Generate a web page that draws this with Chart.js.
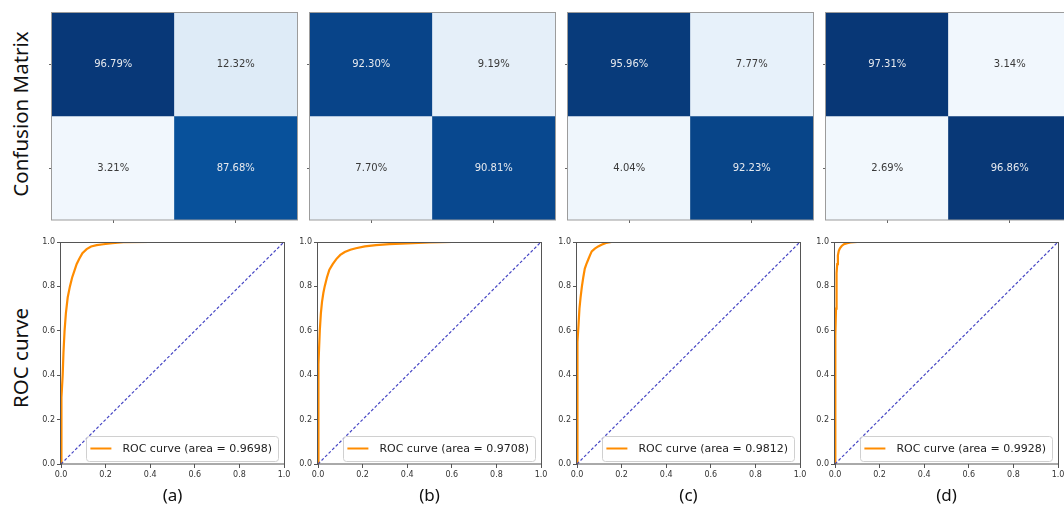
<!DOCTYPE html>
<html>
<head>
<meta charset="utf-8">
<script src="https://cdn.jsdelivr.net/npm/chart.js@4/dist/chart.umd.min.js"></script>
<style>
  html, body { margin: 0; padding: 0; background: #fff; }
  body { width: 1064px; height: 506px; position: relative; overflow: hidden; }
  canvas { position: absolute; }
  .rowlabel { position: absolute; transform: translate(-50%, -50%) rotate(-90deg); white-space: nowrap;
              font-family: "Noto Sans", sans-serif; font-size: 20.5px; color: #111; }
</style>
</head>
<body>
<div class="rowlabel" style="left:20px; top:114px;">Confusion Matrix</div>
<div class="rowlabel" style="left:20px; top:358px;">ROC curve</div>
<script>
// ---------------- data ----------------
const panelNames = ['(a)', '(b)', '(c)', '(d)'];

// confusion matrices (percent), rows top -> bottom, columns left -> right
const cmA = [[96.79, 12.32], [3.21, 87.68]];
const cmB = [[92.30, 9.19], [7.70, 90.81]];
const cmC = [[95.96, 7.77], [4.04, 92.23]];
const cmD = [[97.31, 3.14], [2.69, 96.86]];

const aucValues = [0.9698, 0.9708, 0.9812, 0.9928];

const fprA = [0, 0, 0.004, 0.0075, 0.011, 0.016, 0.022, 0.03, 0.04, 0.05, 0.06, 0.07, 0.082, 0.096, 0.115, 0.135, 0.16, 0.19, 0.23, 0.28, 0.4, 1.0];
const tprA = [0, 0.13, 0.3, 0.4, 0.5, 0.6, 0.68, 0.75, 0.8, 0.84, 0.87, 0.9, 0.925, 0.95, 0.968, 0.98, 0.986, 0.99, 0.995, 0.999, 1.0, 1.0];

const fprB = [0, 0, 0.002, 0.004, 0.008, 0.013, 0.018, 0.024, 0.03, 0.04, 0.051, 0.066, 0.082, 0.1, 0.12, 0.145, 0.17, 0.21, 0.26, 0.32, 0.4, 0.5, 0.6, 1.0];
const tprB = [0, 0.13, 0.35, 0.45, 0.6, 0.68, 0.73, 0.77, 0.80, 0.84, 0.875, 0.9, 0.923, 0.942, 0.955, 0.965, 0.972, 0.98, 0.986, 0.99, 0.994, 0.998, 1.0, 1.0];

const fprC = [0, 0, 0.002, 0.004, 0.007, 0.011, 0.016, 0.022, 0.028, 0.035, 0.042, 0.05, 0.058, 0.066, 0.08, 0.095, 0.11, 0.13, 0.155, 1.0];
const tprC = [0, 0.13, 0.4, 0.55, 0.63, 0.7, 0.75, 0.8, 0.84, 0.88, 0.9, 0.92, 0.94, 0.958, 0.97, 0.98, 0.988, 0.996, 1.0, 1.0];

const fprD = [0, 0, 0.001, 0.002, 0.003, 0.0045, 0.006, 0.008, 0.01, 0.013, 0.017, 0.022, 0.03, 0.04, 0.055, 0.07, 0.1, 1.0];
const tprD = [0, 0.13, 0.35, 0.48, 0.58, 0.7, 0.8, 0.86, 0.9, 0.94, 0.96, 0.972, 0.982, 0.99, 0.995, 0.998, 1.0, 1.0];

const diagX = [0, 1];
const diagY = [0, 1];
const axisTicks = [0, 0.2, 0.4, 0.6, 0.8, 1.0];
const cmColumns = ['0', '1'];

// ---------------- styling helpers ----------------
const BLUES = [[247,251,255],[222,235,247],[198,219,239],[158,202,225],[107,174,214],[66,146,198],[33,113,181],[8,81,156],[8,48,107]];
function blues(pct) {
  const t = Math.max(0, Math.min(1, pct / 100)) * (BLUES.length - 1);
  const i = Math.min(Math.floor(t), BLUES.length - 2);
  const f = t - i;
  const c = BLUES[i].map((v, k) => Math.round(v + (BLUES[i + 1][k] - v) * f));
  return `rgb(${c[0]},${c[1]},${c[2]})`;
}

const TICK_FONT = { family: '"DejaVu Sans", sans-serif', size: 8 };

const frameBox = {
  id: 'frameBox',
  afterDraw(chart, args, opts) {
    const { ctx, chartArea: a } = chart;
    ctx.save();
    ctx.strokeStyle = opts.color || '#444';
    ctx.lineWidth = 1;
    ctx.strokeRect(Math.round(a.left) - 0.5, Math.round(a.top) + 0.5, Math.round(a.right - a.left) + 1, Math.round(a.bottom - a.top) - 0.5);
    ctx.restore();
  }
};

const cellText = {
  id: 'cellText',
  afterDatasetsDraw(chart) {
    const { ctx } = chart;
    ctx.save();
    ctx.font = '10px "DejaVu Sans", sans-serif';
    ctx.textAlign = 'center';
    ctx.textBaseline = 'middle';
    chart.data.datasets.forEach((ds, di) => {
      const meta = chart.getDatasetMeta(di);
      meta.data.forEach((el, i) => {
        const v = ds.values[i];
        const p = el.getProps(['x', 'y', 'base'], true);
        ctx.fillStyle = v > 50 ? '#e6e9ee' : '#3a3a3a';
        ctx.fillText(v.toFixed(2) + '%', p.x, (p.y + p.base) / 2);
      });
    });
    ctx.restore();
  }
};

const innerLegend = {
  id: 'innerLegend',
  afterDraw(chart) {
    const { ctx, chartArea: a } = chart;
    const ds = chart.data.datasets[1];
    ctx.save();
    ctx.font = '11px "DejaVu Sans", sans-serif';
    const tw = ctx.measureText(ds.label).width;
    const h = 25;
    const w = tw + 42;
    const right = a.right - 6;
    const bottom = a.bottom - 3;
    const left = right - w, top = bottom - h;
    ctx.beginPath();
    ctx.roundRect(Math.round(left) + 0.5, Math.round(top) + 0.5, Math.round(w), h, 3);
    ctx.fillStyle = 'rgba(255,255,255,0.85)';
    ctx.fill();
    ctx.strokeStyle = '#d0d0d0';
    ctx.lineWidth = 1;
    ctx.stroke();
    const cy = top + h / 2;
    ctx.beginPath();
    ctx.moveTo(left + 4, cy);
    ctx.lineTo(left + 25, cy);
    ctx.strokeStyle = ds.borderColor;
    ctx.lineWidth = 2;
    ctx.stroke();
    ctx.fillStyle = '#222';
    ctx.textBaseline = 'middle';
    ctx.fillText(ds.label, left + 36, cy + 0.5);
    ctx.restore();
  }
};

function makeCanvas(left, top, w, h) {
  const c = document.createElement('canvas');
  c.width = w; c.height = h;
  c.style.left = left + 'px'; c.style.top = top + 'px';
  c.style.width = w + 'px'; c.style.height = h + 'px';
  document.body.appendChild(c);
  return c;
}

// ---------------- confusion matrices ----------------
const cmLefts = [52, 310, 568, 826];
const CM_W = 245, CM_TOP = 12, CM_H = 208;
[cmA, cmB, cmC, cmD].forEach((cm, k) => {
  const cv = makeCanvas(cmLefts[k] - 10, 0, 10 + CM_W + 6, CM_TOP + CM_H + 10);
  new Chart(cv, {
    type: 'bar',
    data: {
      labels: cmColumns,
      datasets: cm.map((row, r) => ({
        data: row.map(() => [cm.length - r - 1, cm.length - r]),
        values: row,
        backgroundColor: row.map(blues),
        borderWidth: 0,
        grouped: false,
        barPercentage: 1,
        categoryPercentage: 1
      }))
    },
    options: {
      responsive: false, animation: false, devicePixelRatio: 1,
      layout: { padding: { top: CM_TOP, right: 6, left: 0, bottom: 0 } },
      plugins: { legend: { display: false }, tooltip: { enabled: false }, frameBox: { color: '#9c9c9c' } },
      scales: {
        x: {
          type: 'category', offset: true,
          grid: { offset: false, drawOnChartArea: false, tickLength: 3, color: '#666' },
          border: { display: false },
          ticks: { display: false },
          afterFit: s => { s.height = 10; }
        },
        y: {
          type: 'linear', min: 0, max: 2,
          grid: { drawOnChartArea: false, tickLength: 3, color: '#666' },
          border: { display: false },
          ticks: { display: false },
          afterBuildTicks: s => { s.ticks = [{ value: 0.5 }, { value: 1.5 }]; },
          afterFit: s => { s.width = 10; }
        }
      }
    },
    plugins: [cellText, frameBox]
  });
});

// ---------------- ROC curves ----------------
const rocLefts = [61, 318, 577, 835];
const ROC_W = 223, ROC_H = 222, ROC_TOP = 242;
const rocSeries = [[fprA, tprA], [fprB, tprB], [fprC, tprC], [fprD, tprD]];
rocSeries.forEach(([fpr, tpr], k) => {
  const cv = makeCanvas(rocLefts[k] - 30, ROC_TOP - 8, 30 + ROC_W + 12, 8 + ROC_H + 42);
  new Chart(cv, {
    type: 'line',
    data: {
      datasets: [
        {
          label: 'chance',
          data: diagX.map((x, i) => ({ x, y: diagY[i] })),
          borderColor: '#4646c4', borderWidth: 1.2, borderDash: [3, 2],
          pointRadius: 0, tension: 0
        },
        {
          label: 'ROC curve (area = ' + aucValues[k].toFixed(4) + ')',
          data: fpr.map((x, i) => ({ x, y: tpr[i] })),
          borderColor: '#ff8c00', borderWidth: 2.2,
          pointRadius: 0, tension: 0
        }
      ]
    },
    options: {
      responsive: false, animation: false, devicePixelRatio: 1,
      layout: { padding: { top: 8, right: 12, left: 0, bottom: 0 } },
      plugins: { legend: { display: false }, tooltip: { enabled: false }, frameBox: { color: '#555' } },
      scales: {
        x: {
          type: 'linear', min: 0, max: 1,
          grid: { drawOnChartArea: false, tickLength: 4, color: '#555' },
          border: { display: false },
          ticks: { font: TICK_FONT, color: '#333', padding: 2, maxRotation: 0, callback: v => v.toFixed(1) },
          afterBuildTicks: s => { s.ticks = axisTicks.map(v => ({ value: v })); },
          title: { display: true, text: panelNames[k], font: { family: '"Noto Sans", sans-serif', size: 17 }, color: '#111', padding: { top: 0, bottom: 0 } },
          afterFit: s => { s.height = 42; }
        },
        y: {
          type: 'linear', min: 0, max: 1,
          grid: { drawOnChartArea: false, tickLength: 4, color: '#555' },
          border: { display: false },
          ticks: { font: TICK_FONT, color: '#333', padding: 2, callback: v => v.toFixed(1) },
          afterBuildTicks: s => { s.ticks = axisTicks.map(v => ({ value: v })); },
          afterFit: s => { s.width = 30; }
        }
      }
    },
    plugins: [innerLegend, frameBox]
  });
});
</script>
</body>
</html>
